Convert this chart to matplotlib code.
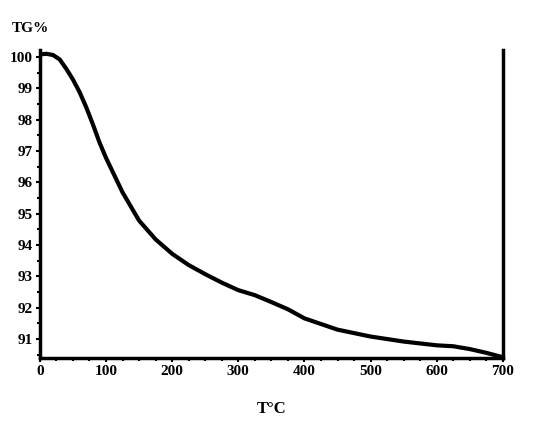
import matplotlib
matplotlib.use('Agg')
from matplotlib import pyplot as plt
from matplotlib.ticker import MultipleLocator

temp = [0, 10, 20, 30, 40, 50, 60, 70, 80, 90, 100, 110, 125, 150, 175, 200,
        225, 250, 275, 300, 325, 350, 375, 400, 450, 500, 550, 600, 625, 650, 675, 700]
tg = [100.08, 100.1, 100.06, 99.92, 99.62, 99.28, 98.88, 98.4, 97.86, 97.28, 96.78, 96.34,
      95.68, 94.78, 94.18, 93.72, 93.36, 93.07, 92.8, 92.56, 92.4, 92.18, 91.95, 91.66,
      91.3, 91.08, 90.92, 90.8, 90.77, 90.68, 90.56, 90.42]

x_ticks = [0, 100, 200, 300, 400, 500, 600, 700]
y_ticks = [91, 92, 93, 94, 95, 96, 97, 98, 99, 100]

plt.rcParams['font.family'] = ['Liberation Serif', 'DejaVu Serif']
plt.rcParams['font.weight'] = 'bold'

fig = plt.figure(figsize=(5.46, 4.24), dpi=100)
ax = fig.add_axes([0.073, 0.156, 0.848, 0.726])
ax.plot(temp, tg, color='black', linewidth=3, solid_capstyle='round', solid_joinstyle='round')

ax.set_xlim(0, 700)
ax.set_ylim(90.4, 100.22)
ax.set_xticks(x_ticks)
ax.set_yticks(y_ticks)
ax.xaxis.set_minor_locator(MultipleLocator(25))
ax.yaxis.set_minor_locator(MultipleLocator(0.5))
ax.tick_params(which='major', direction='out', length=3, width=1.5, labelsize=11, pad=2)
ax.tick_params(which='minor', direction='out', length=2, width=1.5)
for lab in ax.get_xticklabels() + ax.get_yticklabels():
    lab.set_fontweight('bold')

ax.spines['top'].set_visible(False)
for s in ['left', 'bottom', 'right']:
    ax.spines[s].set_linewidth(2.5)

ax.set_xlabel('T°C', fontsize=12, fontweight='bold', labelpad=17)
fig.text(0.022, 0.925, 'TG%', fontsize=11, fontweight='bold')

fig.savefig('out.png', dpi=100)
